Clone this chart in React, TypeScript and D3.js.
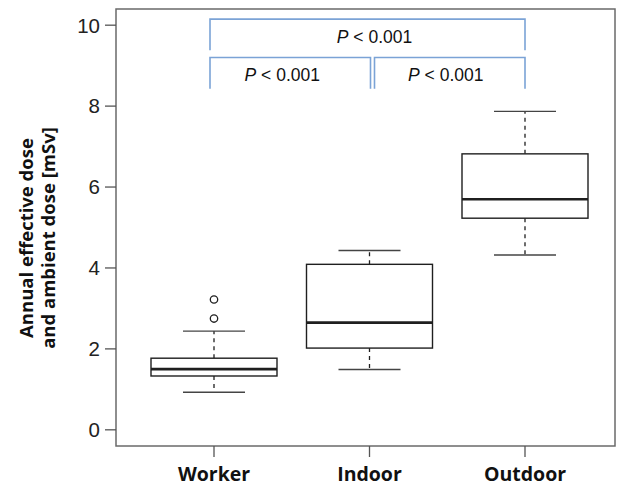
import * as React from "react"
import * as d3 from "d3"

// groups and their box statistics (mSv)
const categories = ["Worker", "Indoor", "Outdoor"]
const whiskerLow = [0.93, 1.49, 4.32]
const q1 = [1.33, 2.02, 5.23]
const median = [1.5, 2.65, 5.7]
const q3 = [1.77, 4.09, 6.82]
const whiskerHigh = [2.44, 4.43, 7.87]
const outliers: { group: string; value: number }[] = [
  { group: "Worker", value: 3.22 },
  { group: "Worker", value: 2.75 },
]

const yTicks = [0, 2, 4, 6, 8, 10]

// significance brackets: from/to group, top and leg end (data units)
const brackets = [
  { from: "Worker", to: "Outdoor", top: 10.15, foot: 9.38, label: "0.001", shift: 7 },
  { from: "Worker", to: "Indoor", top: 9.2, foot: 8.43, label: "0.001", shift: -8 },
  { from: "Indoor", to: "Outdoor", top: 9.2, foot: 8.43, label: "0.001", shift: -4 },
]

const W = 623
const H = 486
const frame = { left: 116, right: 615, top: 9, bottom: 446 }

export default function App() {
  const x = d3.scalePoint<string>().domain(categories).range([214, 525])
  const y = d3.scaleLinear().domain([-0.4, 10.4]).range([frame.bottom, frame.top])

  const boxHalf = 63
  const capHalf = 31
  const ink = "#1f1f1f"
  const blue = "#7ba3d6"

  return (
    <svg
      width={W}
      height={H}
      viewBox={`0 0 ${W} ${H}`}
      style={{ position: "absolute", left: 0, top: 0, background: "#fff", overflow: "visible" }}
    >
      {/* frame */}
      <rect
        x={frame.left}
        y={frame.top}
        width={frame.right - frame.left}
        height={frame.bottom - frame.top}
        fill="none"
        stroke="#6a6a6a"
        strokeWidth={1.5}
      />

      {/* y axis */}
      {yTicks.map((t) => (
        <g key={t}>
          <line x1={frame.left - 11} x2={frame.left} y1={y(t)} y2={y(t)} stroke="#555" strokeWidth={1.3} />
          <text
            x={frame.left - 16}
            y={y(t)}
            dy="0.36em"
            textAnchor="end"
            fontFamily="'Liberation Sans', Arial, sans-serif"
            fontSize={20.5}
            fill="#222"
          >
            {t}
          </text>
        </g>
      ))}

      {/* x axis */}
      {categories.map((c) => (
        <g key={c}>
          <line x1={x(c)} x2={x(c)} y1={frame.bottom} y2={frame.bottom + 11} stroke="#555" strokeWidth={1.3} />
          <text
            x={x(c)}
            y={481}
            textAnchor="middle"
            fontFamily="'Open Sans', sans-serif"
            fontWeight="bold"
            fontSize={19.5}
            fill="#111"
          >
            {c}
          </text>
        </g>
      ))}

      {/* y title */}
      <g transform="translate(33,238) rotate(-90)">
        <text
          textAnchor="middle"
          fontFamily="'Open Sans', sans-serif"
          fontWeight="bold"
          fontSize={18.5}
          fill="#111"
        >
          Annual effective dose
        </text>
        <text
          y={22}
          textAnchor="middle"
          fontFamily="'Open Sans', sans-serif"
          fontWeight="bold"
          fontSize={18.5}
          fill="#111"
        >
          and ambient dose [mSv]
        </text>
      </g>

      {/* boxes */}
      {categories.map((c, i) => {
        const cx = x(c) as number
        return (
          <g key={c} stroke={ink} fill="none">
            <line x1={cx} x2={cx} y1={y(q3[i])} y2={y(whiskerHigh[i])} strokeWidth={1.3} strokeDasharray="4,4" />
            <line x1={cx} x2={cx} y1={y(q1[i])} y2={y(whiskerLow[i])} strokeWidth={1.3} strokeDasharray="4,4" />
            <line x1={cx - capHalf} x2={cx + capHalf} y1={y(whiskerHigh[i])} y2={y(whiskerHigh[i])} stroke="#444" strokeWidth={1.4} />
            <line x1={cx - capHalf} x2={cx + capHalf} y1={y(whiskerLow[i])} y2={y(whiskerLow[i])} stroke="#444" strokeWidth={1.4} />
            <rect
              x={cx - boxHalf}
              y={y(q3[i])}
              width={boxHalf * 2}
              height={y(q1[i]) - y(q3[i])}
              fill="#fff"
              strokeWidth={1.4}
            />
            <line x1={cx - boxHalf} x2={cx + boxHalf} y1={y(median[i])} y2={y(median[i])} strokeWidth={2.6} />
          </g>
        )
      })}

      {/* outliers */}
      {outliers.map((o, i) => (
        <circle key={i} cx={x(o.group)} cy={y(o.value)} r={3.7} fill="none" stroke={ink} strokeWidth={1.3} />
      ))}

      {/* significance brackets */}
      {brackets.map((b, i) => {
        const gap = 2
        const x0 = (x(b.from) as number) + (b.from === "Worker" ? -4 : gap + 3)
        const x1 = (x(b.to) as number) + (b.to === "Indoor" ? gap - 1 : 0)
        const mid = (x0 + x1) / 2 + b.shift
        return (
          <g key={i}>
            <path
              d={`M${x0},${y(b.foot)}V${y(b.top)}H${x1}V${y(b.foot)}`}
              fill="none"
              stroke={blue}
              strokeWidth={1.6}
            />
            <text
              x={mid}
              y={y(b.top) + 23.5}
              textAnchor="middle"
              fontFamily="'Liberation Sans', Arial, sans-serif"
              fontSize={17.5}
              fill="#111"
            >
              <tspan fontStyle="italic">P</tspan> &lt; {b.label}
            </text>
          </g>
        )
      })}
    </svg>
  )
}
